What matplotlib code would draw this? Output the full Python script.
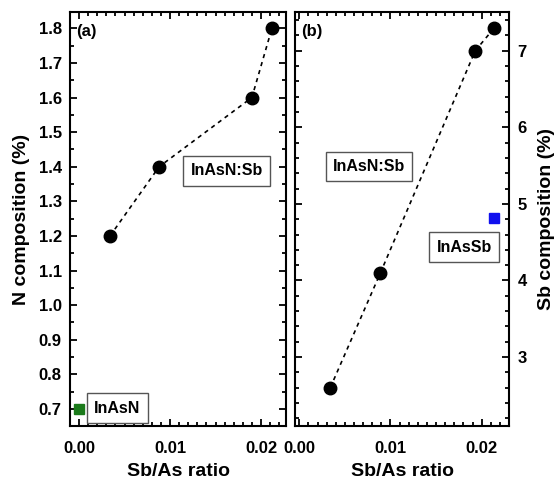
import matplotlib
matplotlib.use("Agg")
import matplotlib.pyplot as plt
from matplotlib.ticker import MultipleLocator

plt.rcParams["font.family"] = ["Liberation Sans", "DejaVu Sans"]
plt.rcParams["font.weight"] = "bold"

# panel (a): N composition of InAsN:Sb vs Sb/As ratio
ratio_a = [0.0034, 0.0088, 0.0190, 0.0212]
n_comp = [1.2, 1.4, 1.6, 1.8]
inasn_ratio = [0.0]
inasn_n = [0.7]

# panel (b): Sb composition of InAsN:Sb vs Sb/As ratio
ratio_b = [0.0034, 0.0089, 0.0193, 0.0214]
sb_comp = [2.6, 4.1, 7.0, 7.3]
inassb_ratio = [0.0214]
inassb_sb = [4.81]

fig = plt.figure(figsize=(5.56, 4.87), dpi=100)
ax_a = fig.add_axes([0.1259, 0.1253, 0.3885, 0.850])
ax_b = fig.add_axes([0.5306, 0.1253, 0.3849, 0.850])


def style_axis(axis):
    for sp in axis.spines.values():
        sp.set_linewidth(1.5)
    axis.tick_params(which="both", direction="in", top=True, bottom=True,
                     left=True, right=True, width=1.3, labelsize=12, pad=6)
    axis.tick_params(axis="x", pad=11)
    axis.tick_params(which="major", length=5)
    axis.tick_params(which="minor", length=3)
    axis.xaxis.set_major_locator(MultipleLocator(0.01))
    axis.xaxis.set_minor_locator(MultipleLocator(0.001))
    axis.xaxis.set_major_formatter(plt.FormatStrFormatter("%.2f"))
    axis.set_xlabel("Sb/As ratio", fontsize=14, fontweight="bold", labelpad=5)


box = dict(boxstyle="square,pad=0.45", facecolor="white", edgecolor="#555555", linewidth=1.0)

# (a)
ax_a.plot(ratio_a, n_comp, linestyle=(0, (2.5, 2.5)), color="black", linewidth=1.2,
          marker="o", markersize=9, markerfacecolor="black")
ax_a.plot(inasn_ratio, inasn_n, linestyle="none", marker="s", markersize=7.5,
          color="#1a7a1a", clip_on=False, zorder=5)
ax_a.set_xlim(-0.001, 0.02275)
ax_a.set_ylim(0.651, 1.847)
ax_a.yaxis.set_major_locator(MultipleLocator(0.1))
ax_a.yaxis.set_minor_locator(MultipleLocator(0.05))
ax_a.yaxis.set_major_formatter(plt.FormatStrFormatter("%.1f"))
style_axis(ax_a)
ax_a.set_ylabel("N composition (%)", fontsize=14, fontweight="bold", labelpad=6)
ax_a.text(0.03, 0.97, "(a)", transform=ax_a.transAxes, fontsize=12,
          fontweight="bold", va="top", ha="left")
ax_a.text(0.725, 0.616, "InAsN:Sb", transform=ax_a.transAxes, fontsize=11.5,
          fontweight="bold", ha="center", va="center", bbox=box)
ax_a.text(0.22, 0.043, "InAsN", transform=ax_a.transAxes, fontsize=11.5,
          fontweight="bold", ha="center", va="center", bbox=box)

# (b)
ax_b.plot(ratio_b, sb_comp, linestyle=(0, (2.5, 2.5)), color="black", linewidth=1.2,
          marker="o", markersize=9, markerfacecolor="black")
ax_b.plot(inassb_ratio, inassb_sb, linestyle="none", marker="s", markersize=7,
          color="#1010ee", zorder=5)
ax_b.set_xlim(-0.00047, 0.023)
ax_b.set_ylim(2.1, 7.505)
ax_b.yaxis.set_major_locator(MultipleLocator(1))
ax_b.yaxis.set_minor_locator(MultipleLocator(0.2))
style_axis(ax_b)
ax_b.tick_params(axis="y", labelleft=False, labelright=True)
ax_b.yaxis.set_label_position("right")
ax_b.set_ylabel("Sb composition (%)", fontsize=14, fontweight="bold", labelpad=8)
ax_b.text(0.03, 0.97, "(b)", transform=ax_b.transAxes, fontsize=12,
          fontweight="bold", va="top", ha="left")
ax_b.text(0.345, 0.627, "InAsN:Sb", transform=ax_b.transAxes, fontsize=11.5,
          fontweight="bold", ha="center", va="center", bbox=box)
ax_b.text(0.79, 0.432, "InAsSb", transform=ax_b.transAxes, fontsize=11.5,
          fontweight="bold", ha="center", va="center", bbox=box)

fig.savefig("out.png", dpi=100)
